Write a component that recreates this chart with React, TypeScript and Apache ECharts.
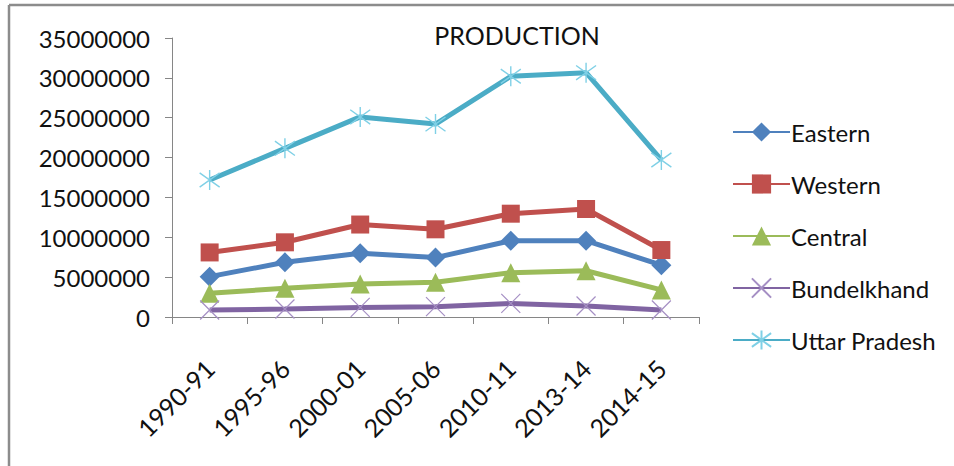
import React, { useEffect, useRef } from "react";
import * as echarts from "echarts";

const categories = ["1990-91", "1995-96", "2000-01", "2005-06", "2010-11", "2013-14", "2014-15"];
const eastern = [5060000, 6860000, 8000000, 7450000, 9570000, 9570000, 6500000];
const western = [8100000, 9370000, 11600000, 11000000, 12960000, 13550000, 8400000];
const central = [2970000, 3600000, 4140000, 4350000, 5560000, 5800000, 3400000];
const bundelkhand = [880000, 1000000, 1200000, 1300000, 1700000, 1380000, 880000];
const uttarPradesh = [17180000, 21160000, 25100000, 24200000, 30200000, 30650000, 19700000];
const yTicks = { min: 0, max: 35000000, interval: 5000000 };

const FONT = "Lato";
const CROSS = "path://M0 0L10 10M10 0L0 10";
const STAR = "path://M0 0L10 10M10 0L0 10M5 -2L5 12";

export default function App() {
  const ref = useRef<HTMLDivElement>(null);
  useEffect(() => {
    const chart = echarts.init(ref.current!, undefined, { renderer: "svg" });
    const mk = (name: string, data: number[], color: string, symbol: string, size: number) => ({
      name,
      type: "line",
      data,
      symbol,
      symbolSize: size,
      lineStyle: { color, width: 5 },
      itemStyle: { color },
      emphasis: { disabled: true },
    });
    chart.setOption({
      animation: false,
      textStyle: { fontFamily: FONT },
      title: {
        text: "PRODUCTION",
        left: 512,
        top: 17,
        textAlign: "center",
        textStyle: { fontFamily: FONT, fontSize: 25, fontWeight: "normal", color: "#111" },
      },
      grid: { left: 172, top: 38, width: 527, height: 279 },
      legend: {
        orient: "vertical",
        left: 727,
        top: 113,
        itemWidth: 57,
        itemHeight: 24,
        itemGap: 24,
        textStyle: { fontFamily: FONT, fontSize: 24, color: "#111", lineHeight: 28, padding: [0, 0, 0, -4] },
        data: ["Eastern", "Western", "Central", "Bundelkhand", "Uttar Pradesh"],
      },
      xAxis: {
        type: "category",
        data: categories,
        boundaryGap: true,
        axisLine: { lineStyle: { color: "#868686", width: 1 } },
        axisTick: { show: true, length: 7, lineStyle: { color: "#868686" } },
        axisLabel: {
          rotate: 45,
          margin: 47,
          interval: 0,
          fontFamily: FONT,
          fontSize: 25,
          color: "#111",
        },
      },
      yAxis: {
        type: "value",
        min: yTicks.min,
        max: yTicks.max,
        interval: yTicks.interval,
        splitLine: { show: false },
        axisLine: { show: true, lineStyle: { color: "#868686", width: 1 } },
        axisTick: { show: true, length: 7, lineStyle: { color: "#868686" } },
        axisLabel: { margin: 22, fontFamily: FONT, fontSize: 24, color: "#111", formatter: (v: number) => String(v) },
      },
      graphic: [
        { type: "line", shape: { x1: 9, y1: 5, x2: 9, y2: 470 }, style: { stroke: "#8c8c8c", lineWidth: 2.5 } },
        { type: "line", shape: { x1: 9, y1: 5, x2: 960, y2: 5 }, style: { stroke: "#8c8c8c", lineWidth: 2.5 } },
      ],
      series: [
        mk("Eastern", eastern, "#4F81BD", "diamond", 20),
        mk("Western", western, "#C0504D", "rect", 18),
        mk("Central", central, "#9BBB59", "triangle", 19),
        {
          ...mk("Bundelkhand", bundelkhand, "#8064A2", CROSS, 19),
          itemStyle: { color: "none", borderColor: "#a58fc4", borderWidth: 1.2 },
        },
        {
          ...mk("Uttar Pradesh", uttarPradesh, "#4BACC6", STAR, 20),
          itemStyle: { color: "none", borderColor: "#7fd0e6", borderWidth: 1.4 },
        },
      ],
    });
    return () => chart.dispose();
  }, []);
  return <div ref={ref} style={{ position: "fixed", left: 0, top: 0, width: 954, height: 466, background: "#fff" }} />;
}
